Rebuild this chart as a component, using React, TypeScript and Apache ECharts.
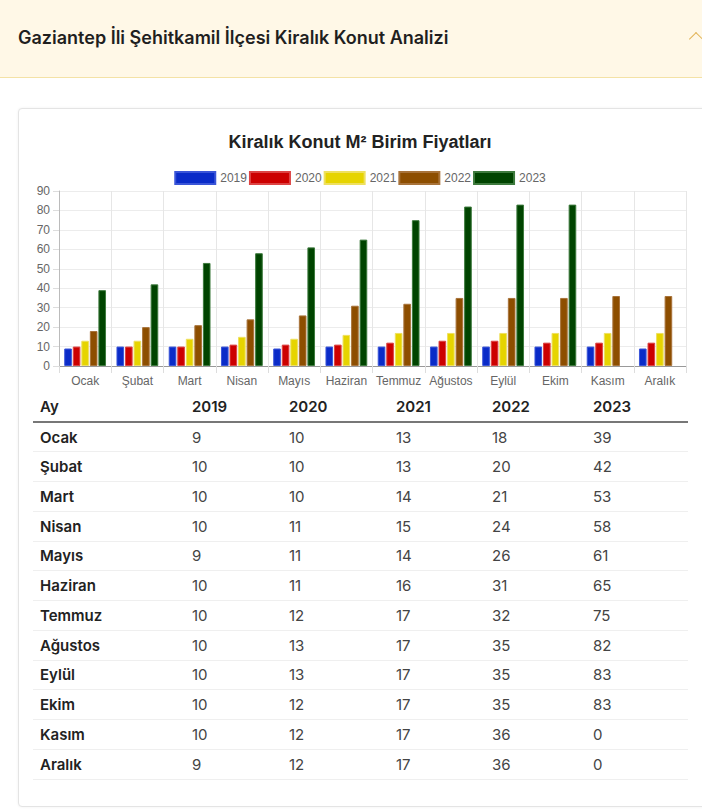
import React, { useEffect, useRef } from "react";
import * as echarts from "echarts";

const months = ["Ocak", "Şubat", "Mart", "Nisan", "Mayıs", "Haziran", "Temmuz", "Ağustos", "Eylül", "Ekim", "Kasım", "Aralık"];
const years = ["2019", "2020", "2021", "2022", "2023"];
const v2019 = [9, 10, 10, 10, 9, 10, 10, 10, 10, 10, 10, 9];
const v2020 = [10, 10, 10, 11, 11, 11, 12, 13, 13, 12, 12, 12];
const v2021 = [13, 13, 14, 15, 14, 16, 17, 17, 17, 17, 17, 17];
const v2022 = [18, 20, 21, 24, 26, 31, 32, 35, 35, 35, 36, 36];
const v2023 = [39, 42, 53, 58, 61, 65, 75, 82, 83, 83, 0, 0];
const seriesValues = [v2019, v2020, v2021, v2022, v2023];
const colors = ["#0a2bc8", "#cc0000", "#e6d400", "#8d4e00", "#004400"];
const borders = ["#3a55d8", "#dd4444", "#eee060", "#a8733a", "#3d7a3d"];
const yTicks = [0, 10, 20, 30, 40, 50, 60, 70, 80, 90];

const FONT = "Inter, 'Noto Sans', sans-serif";

export default function App() {
  const ref = useRef<HTMLDivElement>(null);
  useEffect(() => {
    if (!ref.current) return;
    const chart = echarts.init(ref.current, undefined, { renderer: "svg" });
    chart.setOption({
      animation: false,
      title: {
        text: "Kiralık Konut M² Birim Fiyatları",
        left: "center",
        top: 8,
        textStyle: { fontFamily: "Liberation Sans, Arial", fontSize: 18, fontWeight: "bold", color: "#222" },
      },
      legend: {
        data: years,
        top: 46,
        left: "center",
        itemWidth: 40,
        itemHeight: 12,
        itemGap: 2,
        icon: "rect",
        textStyle: { fontFamily: "Liberation Sans, Arial", fontSize: 12, color: "#666" },
      },
      grid: { left: 41, top: 71, width: 627, height: 175, containLabel: false },
      xAxis: {
        type: "category",
        data: months,
        boundaryGap: true,
        axisLine: { show: true, lineStyle: { color: "#999", width: 1 } },
        axisTick: { show: true, alignWithLabel: false, length: 7, lineStyle: { color: "#ddd" } },
        splitLine: { show: true, lineStyle: { color: "#e6e6e6" } },
        axisLabel: { fontFamily: "Liberation Sans, Arial", fontSize: 12, color: "#666", margin: 9, interval: 0 },
      },
      yAxis: {
        type: "value",
        min: 0,
        max: yTicks[yTicks.length - 1],
        interval: 10,
        axisLine: { show: true, lineStyle: { color: "#bbb" } },
        axisTick: { show: true, length: 6, lineStyle: { color: "#ddd" } },
        splitLine: { show: true, lineStyle: { color: "#ececec" } },
        axisLabel: { fontFamily: "Liberation Sans, Arial", fontSize: 12, color: "#666", margin: 9 },
      },
      series: years.map((y, i) => ({
        name: y,
        type: "bar",
        data: seriesValues[i].map((v) => ({ value: v, itemStyle: { borderWidth: v === 0 ? 0 : 1 } })),
        barGap: "12%",
        barCategoryGap: "20%",
        itemStyle: { color: colors[i], borderColor: borders[i], borderWidth: 1 },
      })),
    });
    return () => chart.dispose();
  }, []);

  const colWidths = [152, 97, 107, 96, 101, 102];

  return (
    <div style={{ position: "absolute", left: 0, top: 0, width: 702, height: 810, overflow: "hidden", background: "#fff", fontFamily: FONT }}>
      <div
        style={{
          position: "absolute",
          left: 0,
          top: 0,
          width: 702,
          height: 77,
          background: "#fff8e7",
          borderBottom: "1px solid #f4e2a6",
        }}
      >
        <div style={{ position: "absolute", left: 18, top: 27, fontSize: 18, fontWeight: 600, color: "#1f1f1f", lineHeight: "22px" }}>
          Gaziantep İli Şehitkamil İlçesi Kiralık Konut Analizi
        </div>
        <div
          style={{
            position: "absolute",
            left: 691,
            top: 34,
            width: 9,
            height: 9,
            borderLeft: "1.5px solid #e2b457",
            borderTop: "1.5px solid #e2b457",
            transform: "rotate(45deg)",
          }}
        />
      </div>
      <div
        style={{
          position: "absolute",
          left: 18,
          top: 108,
          width: 720,
          height: 697,
          border: "1px solid #e4e4e4",
          borderRadius: 4,
          boxShadow: "0 0 3px rgba(0,0,0,0.06)",
          background: "#fff",
        }}
      />
      <div ref={ref} style={{ position: "absolute", left: 18, top: 120, width: 684, height: 272 }} />
      <table
        style={{
          position: "absolute",
          left: 33,
          top: 392,
          width: 655,
          borderCollapse: "collapse",
          tableLayout: "fixed",
          fontFamily: FONT,
          fontSize: 15,
          color: "#333",
        }}
      >
        <colgroup>
          {colWidths.map((w, i) => (
            <col key={i} style={{ width: w }} />
          ))}
        </colgroup>
        <thead>
          <tr style={{ height: 30 }}>
            {["Ay", ...years].map((h) => (
              <th key={h} style={{ textAlign: "left", fontWeight: 600, color: "#222", borderBottom: "2px solid #777", padding: "0 0 0 7px" }}>
                {h}
              </th>
            ))}
          </tr>
        </thead>
        <tbody>
          {months.map((m, r) => (
            <tr key={m} style={{ height: 29.75 }}>
              <td style={{ paddingLeft: 7, fontWeight: 600, color: "#222", borderBottom: "1px solid #efefef", paddingTop: 0, paddingBottom: 0 }}>{m}</td>
              {seriesValues.map((arr, c) => (
                <td key={c} style={{ paddingLeft: 7, fontWeight: 400, color: "#444", borderBottom: "1px solid #efefef", paddingTop: 0, paddingBottom: 0 }}>
                  {arr[r]}
                </td>
              ))}
            </tr>
          ))}
        </tbody>
      </table>
    </div>
  );
}
